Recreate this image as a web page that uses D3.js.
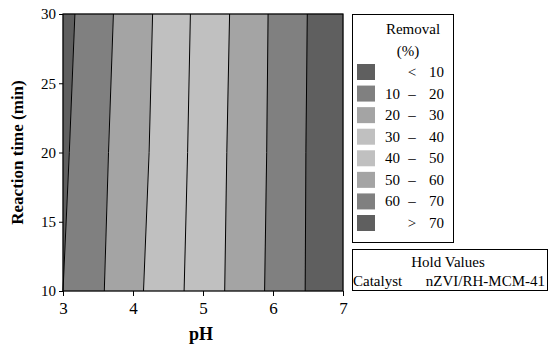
<!DOCTYPE html>
<html>
<head>
<meta charset="utf-8">
<script src="https://cdn.jsdelivr.net/npm/d3@7"></script>
<style>
  body { margin: 0; background: #fff; }
  svg text { font-family: 'Liberation Serif', 'DejaVu Serif', serif; fill: #000; }
</style>
</head>
<body>
<svg id="chart" width="551" height="347" font-family="Liberation Serif, serif"></svg>
<script>
// contour boundaries: pH position of each level line at given times
const times = [10, 20, 30]
const boundaries = [
  [3.00, 3.09, 3.17],
  [3.59, 3.65, 3.72],
  [4.15, 4.23, 4.28],
  [4.73, 4.78, 4.82],
  [5.31, 5.34, 5.38],
  [5.88, 5.91, 5.93],
  [6.46, 6.47, 6.49]
]
const bandColors = ['#5f5f5f', '#808080', '#a4a4a4', '#c0c0c0', '#c0c0c0', '#a4a4a4', '#808080', '#5f5f5f']

const legendLow  = ['', '10', '20', '30', '40', '50', '60', '']
const legendSep  = ['<', '–', '–', '–', '–', '–', '–', '>']
const legendHigh = ['10', '20', '30', '40', '50', '60', '70', '70']

const xTicks = [3, 4, 5, 6, 7]
const yTicks = [10, 15, 20, 25, 30]

const svg = d3.select('#chart')
const m = { left: 63, right: 343, top: 14, bottom: 291 }

const x = d3.scaleLinear().domain([3, 7]).range([m.left, m.right])
const y = d3.scaleLinear().domain([10, 30]).range([m.bottom, m.top])

// edges of each band: left frame, 7 level lines, right frame
const edges = [times.map(() => 3), ...boundaries, times.map(() => 7)]

const plot = svg.append('g')

bandColors.forEach((c, i) => {
  const left  = edges[i].map((p, k) => [x(p), y(times[k])])
  const right = edges[i + 1].map((p, k) => [x(p), y(times[k])]).reverse()
  plot.append('path')
    .attr('d', 'M' + left.concat(right).join('L') + 'Z')
    .attr('fill', c)
    .attr('stroke', c)
    .attr('stroke-width', 0.5)
})

const line = d3.line().x(d => x(d[0])).y(d => y(d[1]))
boundaries.forEach(b => {
  plot.append('path')
    .attr('d', line(b.map((p, k) => [p, times[k]])))
    .attr('fill', 'none')
    .attr('stroke', '#000')
    .attr('stroke-width', 1)
})

// frame
plot.append('rect')
  .attr('x', m.left).attr('y', m.top)
  .attr('width', m.right - m.left).attr('height', m.bottom - m.top)
  .attr('fill', 'none').attr('stroke', '#000').attr('stroke-width', 1.2)

// axes
const xAxis = svg.append('g')
  .attr('transform', `translate(0,${m.bottom})`)
  .call(d3.axisBottom(x).tickValues(xTicks).tickSize(5).tickPadding(6).tickFormat(d3.format('d')))
xAxis.attr('font-family', null).attr('font-size', null)
xAxis.select('.domain').remove()
xAxis.selectAll('text').attr('font-size', 17)

const yAxis = svg.append('g')
  .attr('transform', `translate(${m.left},0)`)
  .call(d3.axisLeft(y).tickValues(yTicks).tickSize(4).tickPadding(3).tickFormat(d3.format('d')))
yAxis.attr('font-family', null).attr('font-size', null)
yAxis.select('.domain').remove()
yAxis.selectAll('text').attr('font-size', 15)

svg.append('text')
  .attr('x', 201).attr('y', 340)
  .attr('text-anchor', 'middle')
  .attr('font-size', 18).attr('font-weight', 'bold')
  .text('pH')

svg.append('text')
  .attr('transform', `translate(23,${(m.top + m.bottom) / 2}) rotate(-90)`)
  .attr('text-anchor', 'middle')
  .attr('font-size', 17).attr('font-weight', 'bold')
  .text('Reaction time (min)')

// legend
const lg = svg.append('g')
lg.append('rect')
  .attr('x', 352.5).attr('y', 14.5).attr('width', 101).attr('height', 228)
  .attr('fill', '#fff').attr('stroke', '#000')

lg.append('text').attr('x', 413).attr('y', 34).attr('text-anchor', 'middle')
  .attr('font-size', 15).text('Removal')
lg.append('text').attr('x', 408).attr('y', 56).attr('text-anchor', 'middle')
  .attr('font-size', 15).text('(%)')

const rowY = d3.scaleLinear().domain([0, 7]).range([64, 215])
bandColors.forEach((c, i) => {
  const yy = rowY(i)
  lg.append('rect')
    .attr('x', 357).attr('y', yy).attr('width', 18).attr('height', 16)
    .attr('fill', c)
  lg.append('text').attr('x', 400).attr('y', yy + 13).attr('text-anchor', 'end')
    .attr('font-size', 15).text(legendLow[i])
  lg.append('text').attr('x', 412).attr('y', yy + 13).attr('text-anchor', 'middle')
    .attr('font-size', 15).text(legendSep[i])
  lg.append('text').attr('x', 444).attr('y', yy + 13).attr('text-anchor', 'end')
    .attr('font-size', 15).text(legendHigh[i])
})

// hold values box
const hv = svg.append('g')
hv.append('rect')
  .attr('x', 352.5).attr('y', 249.5).attr('width', 195).attr('height', 41)
  .attr('fill', '#fff').attr('stroke', '#000')
hv.append('text').attr('x', 448).attr('y', 267).attr('text-anchor', 'middle')
  .attr('font-size', 15).text('Hold Values')
hv.append('text').attr('x', 353).attr('y', 286)
  .attr('font-size', 15).text('Catalyst')
hv.append('text').attr('x', 545).attr('y', 286).attr('text-anchor', 'end')
  .attr('font-size', 15).text('nZVI/RH-MCM-41')
</script>
</body>
</html>
